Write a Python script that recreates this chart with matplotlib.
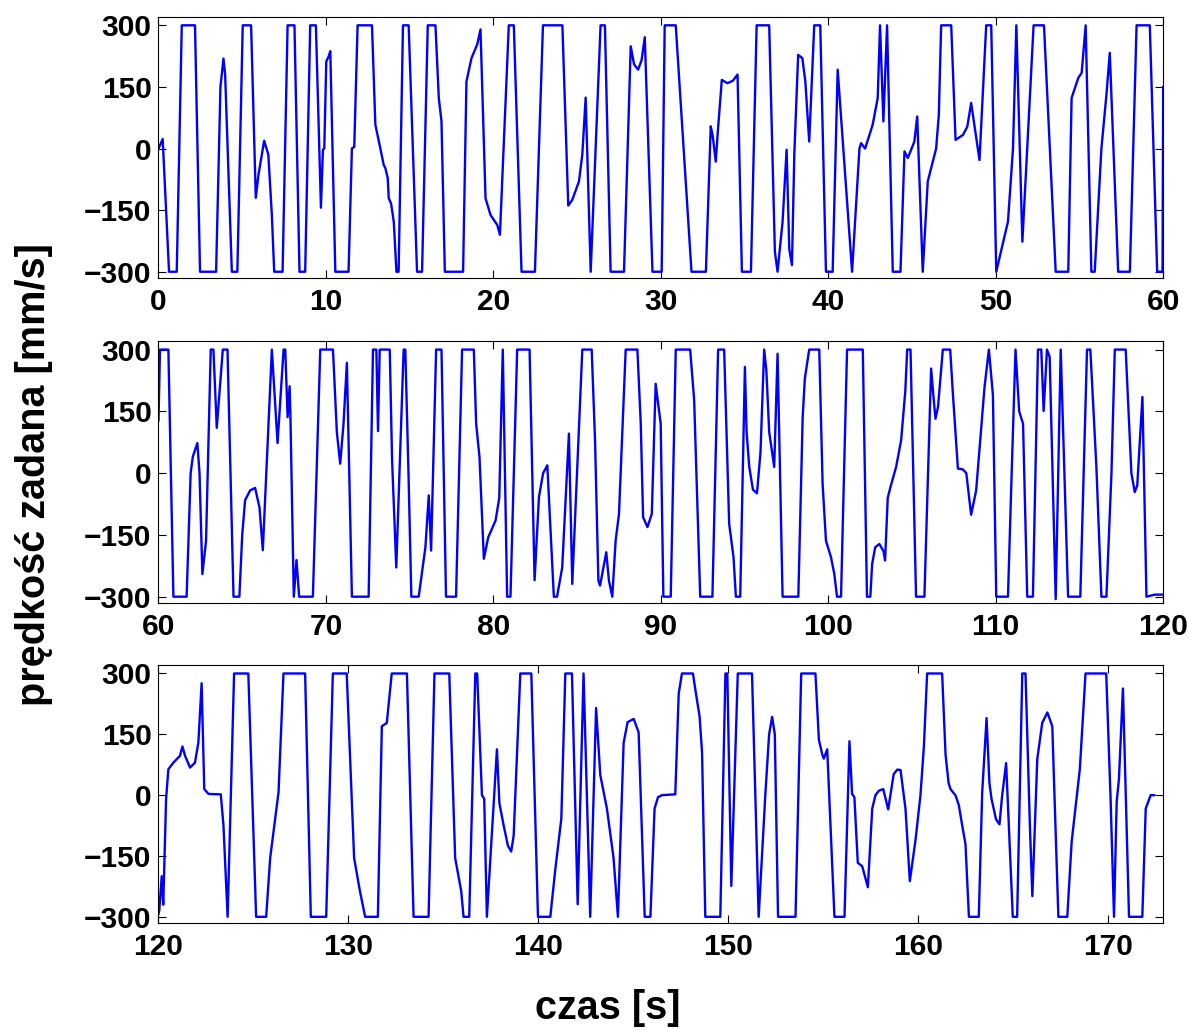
import numpy as np
from matplotlib import pyplot as plt

# set speed profile, split in 3 time windows
t1 = [0, 0.25, 0.63, 1.09, 1.39, 2.18, 2.48, 3.44, 3.7, 3.88, 3.98, 4.38, 4.71, 5.03, 5.53, 5.81, 5.97, 6.31, 6.56, 6.77, 6.91,
      7.41, 7.71, 8.12, 8.42, 8.76, 9.06, 9.40, 9.70, 9.82, 9.90, 10.02, 10.16, 10.26, 10.56, 11.35, 11.55, 11.69, 11.89,
      12.75, 12.95, 13.25, 13.45, 13.55, 13.69, 13.75, 13.89, 14.05, 14.21, 14.34, 14.60, 14.94, 15.44, 15.74, 16.08,
      16.54, 16.74, 16.90, 17.10, 18.19, 18.39, 18.69, 19.03, 19.23, 19.53, 19.83, 20.23, 20.39, 20.92, 21.22, 21.68,
      22.48, 22.96, 24.12, 24.47, 24.71, 25.11, 25.31, 25.51, 25.81, 26.40, 26.66, 27.0, 27.80, 28.20, 28.40, 28.64,
      28.85, 29.04, 29.50, 30.05, 30.23, 30.89, 31.83, 32.69, 32.98, 33.10, 33.28, 33.40, 33.64, 33.98, 34.30, 34.58,
      34.84, 35.38, 35.72, 36.47, 36.81, 36.97, 37.27, 37.51, 37.67, 37.83, 37.97, 38.20, 38.45, 38.63, 38.86, 39.16,
      39.52, 39.86, 40.26, 40.56, 41.42, 41.86, 41.96, 42.20, 42.65, 42.95, 43.09, 43.29, 43.51, 43.85, 44.31, 44.55,
      44.75, 45.14, 45.31, 45.64, 45.94, 46.44, 46.60, 46.74, 47.34, 47.60, 48.04, 48.30, 48.53, 49.03, 49.43, 49.73,
      50.03, 50.73, 51.03, 51.23, 51.59, 52.26, 52.88, 53.58, 54.33, 54.53, 54.93, 55.13, 55.37, 55.71, 55.91, 56.31,
      56.61, 56.81, 57.31, 58.01, 58.41, 59.20, 59.64, 59.96, 60.0]
v1 = [0, 23, -300, -300, 300, 300, -300, -300, 150, 219, 180, -300, -300, 300, 300, -120, -64, 19, -15, -162, -300,
      -300, 300, 300, -300, -300, 300, 300, -144, -3, 0, 212, 224, 237, -300, -300, 0, 4, 300,
      300, 58, 0, -40, -48, -72, -121, -134, -178, -300, -300, 300, 300, -300, -300, 300,
      300, 123, 66, -300, -300, 163, 220, 253, 290, -121, -162, -186, -210, 300, 300, -300,
      -300, 300, 300, -139, -125, -80, -15, 124, -300, 300, 300, -300, -300, 249, 205, 192,
      215, 271, -300, -300, 300, 300, -300, -300, 54, 30, -32, 40, 167, 159, 165, 180,
      -300, -300, 300, 300, -251, -300, -178, -3, -245, -284, -15, 228, 220, 163, 17, 300,
      300, -300, -300, 192, -300, 0, 13, 0, 58, 123, 300, 66, 300, -300, -300, -7,
      -23, 17, 78, -300, -80, 0, 82, 300, 300, 21, 33, 53, 111, -28, 300, 300,
      -300, -178, 0, 300, -227, 300, 300, -300, -300, 123, 172, 184, 300, -300, -300, 0,
      131, 233, -300, -300, 300, 300, -300, -300, 150]

t2 = [60, 60.09, 60.59, 60.89, 61.68, 61.92, 62.05, 62.32, 62.45, 62.62, 62.84, 63.12, 63.28, 63.48, 63.84, 64.12,
      64.48, 64.83, 65.0, 65.17, 65.47, 65.77, 66.03, 66.23, 66.77, 67.11, 67.47, 67.57, 67.71, 67.83, 67.88, 68.08,
      68.24, 68.40, 69.22, 69.66, 70.42, 70.65, 70.85, 71.05, 71.25, 71.55, 72.55, 72.81, 73.01, 73.11, 73.21, 73.81,
      73.95, 74.20, 74.64, 74.74, 74.94, 75.10, 75.54, 75.94, 76.14, 76.28, 76.58, 76.90, 77.17, 77.77, 78.13, 78.83,
      78.97, 79.17, 79.43, 79.69, 80.13, 80.35, 80.56, 80.82, 81.02, 81.42, 82.16, 82.46, 82.72, 82.97, 83.22, 83.61,
      83.80, 84.11, 84.51, 84.71, 85.31, 85.87, 86.07, 86.27, 86.37, 86.74, 86.90, 87.10, 87.30, 87.50, 87.90, 88.60,
      88.80, 88.94, 89.20, 89.46, 89.69, 89.99, 90.15, 90.59, 90.89, 91.75, 91.99, 92.35, 93.08, 93.42, 93.78, 94.08,
      94.34, 94.48, 94.74, 95.02, 95.12, 95.28, 95.50, 95.74, 95.95, 96.17, 96.30, 96.47, 96.77, 96.97, 97.27, 98.21,
      98.47, 98.60, 98.86, 99.46, 99.66, 99.86, 100.16, 100.36, 100.52, 100.76, 101.12, 102.06, 102.31, 102.51, 102.62,
      102.80, 103.05, 103.30, 103.39, 103.55, 103.71, 104.05, 104.35, 104.60, 104.71, 104.91, 105.24, 105.74, 106.14,
      106.25, 106.40, 106.55, 106.84, 107.28, 107.44, 107.74, 108.04, 108.24, 108.53, 108.83, 109.33, 109.59, 109.83,
      110.03, 110.73, 110.95, 111.18, 111.40, 111.63, 111.88, 112.22, 112.52, 112.72, 112.86, 113.06, 113.22, 113.58,
      113.88, 114.32, 115.05, 115.45, 115.65, 116.01, 116.31, 116.61, 116.91, 117.11, 117.76, 118.10, 118.30, 118.45,
      118.76, 119.00, 119.50, 120.0]
v2 = [128, 300, 300, -300, -300, 0, 40, 73, 0, -245, -164, 300, 300, 110, 300, 300,
      -300, -300, -150, -66, -42, -36, -83, -187, 300, 73, 300, 300, 136, 211, 136, -300,
      -211, -300, -300, 300, 300, 100, 23, 120, 268, -300, -300, 300, 300, 102, 300, 300,
      31, -229, 300, 300, -18, -300, -300, -180, -54, -188, 300, 300, -300, -300, 300, 300,
      120, 39, -208, -156, -115, -60, 300, -300, -300, 300, 300, -260, -58, 0, 19, -300,
      -300, -229, 96, -269, 300, 300, 80, -261, -273, -192, -261, -300, -164, -99, 300, 300,
      120, -107, -131, -99, 217, 120, -300, -300, 300, 300, 177, -300, -300, 300, 300, -123,
      -204, -300, -300, 258, 100, 15, -40, -49, 50, 300, 250, 100, 15, 290, -300, -300,
      136, 230, 300, 300, -26, -164, -204, -245, -300, -300, 300, 300, -300, -300, -220,
      -180, -172, -190, -212, -60, -34, 15, 80, 200, 300, 300, -300, -300, 254,
      200, 132, 160, 300, 300, 193, 11, 9, 0, -101, -42, 209, 300, 190,
      -300, -300, 0, 300, 150, 120, -300, -300, 300, 300, 151, 300, 282, -306,
      300, -300, -300, 300, 300, 15, -300, -300, 0, 300, 300, 0, -46, -30,
      185, -300, -295, -295]

t3 = [120, 120.04, 120.17, 120.25, 120.40, 120.52, 120.78, 121.13, 121.26, 121.40, 121.66, 121.92, 122.10, 122.27,
      122.41, 122.63, 123.28, 123.42, 123.64, 123.98, 124.73, 125.14, 125.67, 125.88, 126.32, 126.58, 127.72, 128.02,
      128.83, 129.18, 129.91, 130.30, 130.60, 130.88, 131.55, 131.76, 132.02, 132.28, 133.08, 133.43, 134.22, 134.53,
      135.31, 135.62, 135.94, 136.06, 136.36, 136.68, 136.78, 137.03, 137.15, 137.29, 137.82, 137.95, 138.17, 138.40,
      138.57, 138.70, 139.05, 139.63, 139.98, 140.63, 140.90, 141.21, 141.42, 141.77, 142.07, 142.38, 142.73, 143.04,
      143.26, 143.61, 143.96, 144.19, 144.40, 144.49, 144.70, 145.02, 145.28, 145.60, 145.90, 146.12, 146.30, 146.51,
      147.21, 147.39, 147.56, 148.14, 148.30, 148.49, 148.62, 148.79, 149.58, 149.85, 149.95, 150.16, 150.50, 151.25,
      151.60, 151.95, 152.15, 152.31, 152.45, 152.62, 153.54, 153.84, 154.59, 154.77, 154.95, 155.03, 155.21, 155.59,
      156.12, 156.38, 156.52, 156.64, 156.82, 157.05, 157.35, 157.58, 157.75, 157.93, 158.16, 158.42, 158.71, 158.90,
      159.07, 159.33, 159.56, 159.86, 160.12, 160.30, 160.47, 161.26, 161.44, 161.60, 161.70, 161.97, 162.14, 162.30,
      162.49, 162.67, 163.19, 163.37, 163.60, 163.75, 163.86, 164.10, 164.28, 164.42, 164.63, 164.98, 165.21, 165.48,
      165.65, 165.88, 166.01, 166.27, 166.53, 166.80, 167.06, 167.38, 167.85, 168.08, 168.51, 168.81, 169.90, 170.13,
      170.31, 170.45, 170.57, 170.78, 171.10, 171.80, 171.98, 172.24, 172.42]
v3 = [-293, -285, -200, -270, -9, 64, 80, 97, 120, 97, 68, 80, 130, 276,
      15, 3, 2, -74, -300, 300, 300, -300, -300, -155, 7, 300, 300, -300,
      -300, 300, 300, -155, -235, -300, -300, 170, 178, 300, 300, -300, -300, 300,
      300, -155, -237, -300, -300, 300, 300, 0, -9, -300, 113, -20, -74, -125,
      -139, -100, 300, 300, -300, -300, -180, -58, 300, 300, -269, 300, -300, 215,
      50, -33, -155, -300, 0, 129, 180, 188, 155, -300, -300, -33, -5, 0,
      2, 250, 300, 300, 250, 194, 105, -300, -300, 300, 300, -224, 300, 300,
      -300, 0, 150, 193, 150, -300, -300, 300, 300, 137, 100, 90, 113, -300,
      -300, 133, 3, -5, -167, -175, -227, -33, 0, 11, 15, -35, 52, 63,
      62, -33, -212, -110, 0, 120, 300, 300, 100, 30, 15, -1, -25, -70,
      -121, -300, -300, 7, 190, 30, -9, -60, -72, -1, 79, -300, -300, 300,
      300, -74, -249, 89, 178, 204, 170, -300, -300, -115, 64, 300, 300, -9,
      -300, -17, 40, 263, -300, -300, -33, 0, 0]

x_limits = [(0, 60), (60, 120), (120, 172.9)]
x_ticks = [np.arange(0, 61, 10), np.arange(60, 121, 10), np.arange(120, 171, 10)]
y_ticks = [-300, -150, 0, 150, 300]

plt.rcParams['font.family'] = ['Liberation Sans', 'DejaVu Sans']
plt.rcParams['font.weight'] = 'bold'

fig = plt.figure(figsize = (11.89, 10.30), dpi = 100)

# axes boxes in figure fractions (left, bottom, width, height)
boxes = [(0.1333, 0.7298, 0.845, 0.254), (0.1333, 0.4143, 0.845, 0.2547), (0.1333, 0.1036, 0.845, 0.2508)]
series = [(t1, v1), (t2, v2), (t3, v3)]

for box, (t, v), xl, xt in zip(boxes, series, x_limits, x_ticks):
    ax = fig.add_axes(box)
    ax.plot(t, v, c = "#0000FF", lw = 1.7)
    ax.set_xlim(*xl); ax.set_ylim(-316, 321)
    ax.set_xticks(xt); ax.set_yticks(y_ticks)
    ax.tick_params(direction = "in", top = True, right = True, length = 6, width = 0.8, labelsize = 21.5)
    ax.tick_params(axis = "x", pad = 7); ax.tick_params(axis = "y", pad = 5)
    for s in ax.spines.values(): s.set_linewidth(0.8)

fig.text(0.029, 0.539, "prędkość zadana [mm/s]", rotation = 90, ha = "center", va = "center", fontsize = 28.5, fontweight = "bold")
fig.text(0.511, 0.0214, "czas [s]", ha = "center", va = "center", fontsize = 28.5, fontweight = "bold")

plt.savefig("out.png", dpi = 100)
